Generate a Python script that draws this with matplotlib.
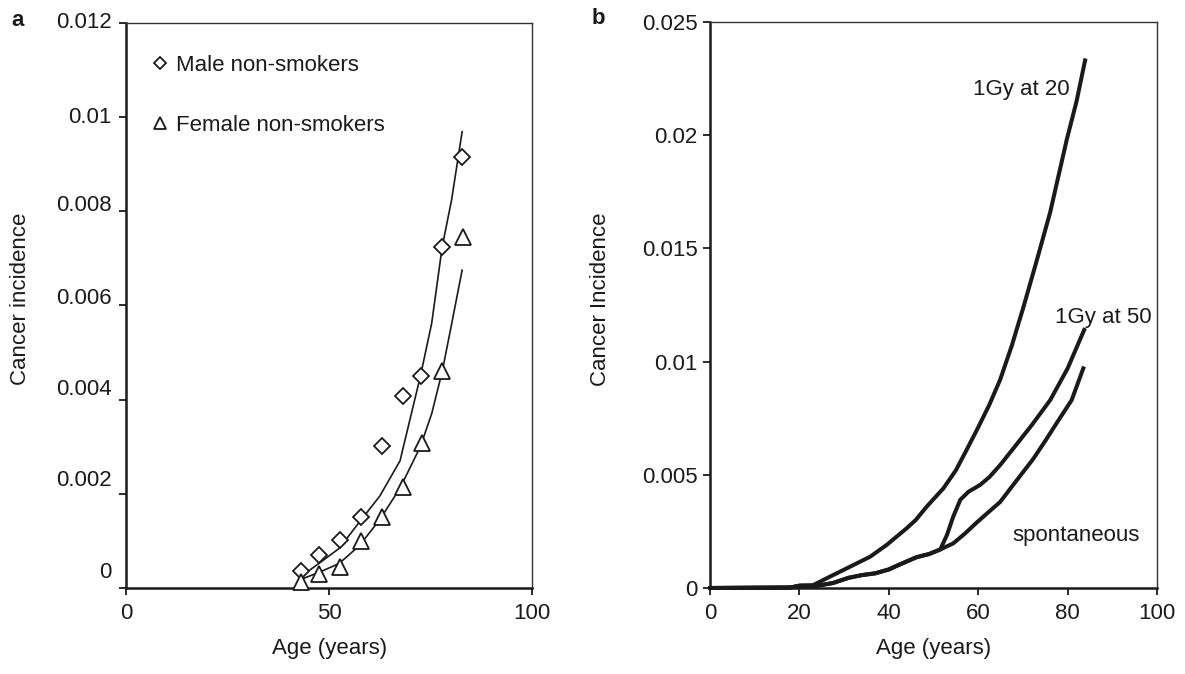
import matplotlib
matplotlib.use("Agg")
import matplotlib.pyplot as plt
from matplotlib.transforms import blended_transform_factory, ScaledTranslation

plt.rcParams['font.family'] = ['Liberation Sans', 'DejaVu Sans']
plt.rcParams['font.size'] = 16

INK = '#1a1a1a'

# ---- panel a: observed incidence in non-smokers and fitted curves ----
male_age = [43.0, 47.6, 52.7, 57.9, 63.0, 68.2, 72.7, 77.9, 82.8]
male_obs = [0.00037, 0.00070, 0.00102, 0.00151, 0.00302, 0.00408, 0.00450, 0.00725, 0.00916]
female_age = [43.0, 47.6, 52.7, 57.9, 63.0, 68.2, 72.9, 77.9, 83.1]
female_obs = [0.00013, 0.00030, 0.00045, 0.00100, 0.00150, 0.00215, 0.00307, 0.00460, 0.00746]

fit_age = [43.0, 47.5, 52.5, 57.5, 62.5, 67.5, 72.5, 75.3, 77.9, 80.2, 82.8]
male_fit = [0.00024, 0.00052, 0.00084, 0.00140, 0.00195, 0.00270, 0.00449, 0.00562, 0.00725, 0.00824, 0.00969]
female_fit = [0.00018, 0.00033, 0.00052, 0.00090, 0.00145, 0.00212, 0.00300, 0.00370, 0.00460, 0.00560, 0.00675]

a_yticks = [0, 0.002, 0.004, 0.006, 0.008, 0.010, 0.012]
a_ylabels = ['0', '0.002', '0.004', '0.006', '0.008', '0.01', '0.012']
a_xticks = [0, 50, 100]

# ---- panel b: modelled incidence with and without a 1 Gy exposure ----
spont_age = [0, 18, 20, 24, 27.5, 31, 34, 37, 40, 42, 46.2, 49, 51.5, 54.4, 57, 59.7, 62, 64.9, 68, 72.3, 75, 77.6, 80.9, 83.5]
spont_val = [0, 0.00002, 0.0001, 0.0001, 0.00022, 0.00045, 0.00057, 0.00065, 0.00082, 0.0010, 0.00136, 0.00150, 0.0017,
             0.00197, 0.0024, 0.0029, 0.0033, 0.0038, 0.0046, 0.0057, 0.0065, 0.0073, 0.0083, 0.0097]

gy50_age = [0, 18, 20, 24, 27.5, 31, 34, 37, 40, 42, 46.2, 49, 51.5, 53, 54.4, 56, 57.8, 60.4, 62.5, 64.9, 68, 72, 76.1, 80, 83.7]
gy50_val = [0, 0.00002, 0.0001, 0.0001, 0.00022, 0.00045, 0.00057, 0.00065, 0.00082, 0.0010, 0.00136, 0.00150, 0.0017,
            0.00234, 0.00315, 0.0039, 0.00425, 0.00455, 0.0049, 0.00543, 0.0062, 0.0072, 0.0083, 0.0097, 0.0114]

gy20_age = [0, 18, 20, 23, 26.1, 30.6, 35.8, 39.5, 44, 46, 48.5, 52.2, 55, 57.4, 60, 62.5, 64.9, 67.5, 70.1, 73,
            76.1, 79.8, 82, 83.9]
gy20_val = [0, 0.00002, 0.0001, 0.00012, 0.00043, 0.00087, 0.00138, 0.0019, 0.00264, 0.0030, 0.0036, 0.0044, 0.0052,
            0.0061, 0.0071, 0.0081, 0.0092, 0.0107, 0.0124, 0.0144, 0.0166, 0.0198, 0.0215, 0.0233]

b_yticks = [0, 0.005, 0.010, 0.015, 0.020, 0.025]
b_ylabels = ['0', '0.005', '0.01', '0.015', '0.02', '0.025']
b_xticks = [0, 20, 40, 60, 80, 100]

# upward nudge (pixels) of each y label in panel a, bottom to top
A_LABEL_NUDGE = [15, 13, 10, 6.5, 5.5, 0, 0]

fig = plt.figure(figsize=(11.85, 6.74), dpi=100)
ax_a = fig.add_axes([0.1063, 0.1276, 0.3426, 0.8383])
ax_b = fig.add_axes([0.5992, 0.1276, 0.3772, 0.8398])


def style_axes(ax):
    for side in ('left', 'bottom'):
        ax.spines[side].set_linewidth(1.8)
        ax.spines[side].set_color(INK)
    for side in ('top', 'right'):
        ax.spines[side].set_linewidth(1.0)
        ax.spines[side].set_color('#333333')
    ax.tick_params(direction='out', length=5, width=1.3, color=INK,
                   labelcolor=INK, labelsize=16)
    ax.tick_params(axis='x', pad=6)
    ax.tick_params(axis='y', pad=4)


# panel a
style_axes(ax_a)
ax_a.plot(fit_age, male_fit, color=INK, lw=1.2, zorder=2)
ax_a.plot(fit_age, female_fit, color=INK, lw=1.2, zorder=2)
h_m, = ax_a.plot(male_age, male_obs, ls='none', marker='D', ms=7.8, mfc='white',
                 mec=INK, mew=1.3, zorder=3, clip_on=False)
h_f, = ax_a.plot(female_age, female_obs, ls='none', marker='^', ms=11.5, mfc='white',
                 mec=INK, mew=1.3, zorder=3, clip_on=False)
ax_a.set_xlim(0, 100)
ax_a.set_ylim(0, 0.012)
ax_a.set_xticks(a_xticks)
ax_a.set_yticks(a_yticks)
ax_a.set_yticklabels([])
lab_tr = blended_transform_factory(ax_a.transAxes, ax_a.transData)
for v, s, nudge in zip(a_yticks, a_ylabels, A_LABEL_NUDGE):
    tr = lab_tr + ScaledTranslation(-14 / 100, nudge / 100, fig.dpi_scale_trans)
    ax_a.text(0, v, s, transform=tr, ha='right', va='center', fontsize=16, color=INK)
ax_a.set_xlabel('Age (years)', fontsize=16, color=INK)
ax_a.set_ylabel('Cancer incidence', fontsize=16, color=INK)
ax_a.xaxis.set_label_coords(0.502, -0.088)
ax_a.yaxis.set_label_coords(-0.234, 0.511)
leg = ax_a.legend([h_m, h_f], ['Male non-smokers', 'Female non-smokers'],
                  loc='upper left', bbox_to_anchor=(0.065, 0.944), frameon=False,
                  handlelength=0.7, handletextpad=0.35, labelspacing=1.75,
                  borderpad=0, borderaxespad=0, fontsize=16, markerscale=0.74)
for t in leg.get_texts():
    t.set_color(INK)

# panel b
style_axes(ax_b)
ax_b.plot(spont_age, spont_val, color=INK, lw=2.9, solid_joinstyle='round', clip_on=False)
ax_b.plot(gy50_age, gy50_val, color=INK, lw=2.9, solid_joinstyle='round', clip_on=False)
ax_b.plot(gy20_age, gy20_val, color=INK, lw=2.9, solid_joinstyle='round', clip_on=False)
ax_b.set_xlim(0, 100)
ax_b.set_ylim(0, 0.025)
ax_b.set_xticks(b_xticks)
ax_b.set_yticks(b_yticks)
ax_b.set_yticklabels(b_ylabels)
ax_b.set_xlabel('Age (years)', fontsize=16, color=INK)
ax_b.set_ylabel('Cancer Incidence', fontsize=16, color=INK)
ax_b.xaxis.set_label_coords(0.499, -0.088)
ax_b.yaxis.set_label_coords(-0.221, 0.51)
ax_b.text(80.5, 0.0220, '1Gy at 20', ha='right', va='center', fontsize=16, color=INK)
ax_b.text(77.2, 0.01193, '1Gy at 50', ha='left', va='center', fontsize=16, color=INK)
ax_b.text(67.6, 0.00234, 'spontaneous', ha='left', va='center', fontsize=16, color=INK)

fig.text(18 / 1185, 1 - 20 / 674, 'a', fontsize=16, fontweight='bold', ha='center', va='center', color=INK)
fig.text(598 / 1185, 1 - 18 / 674, 'b', fontsize=16, fontweight='bold', ha='center', va='center', color=INK)

fig.savefig('out.png', dpi=100)
